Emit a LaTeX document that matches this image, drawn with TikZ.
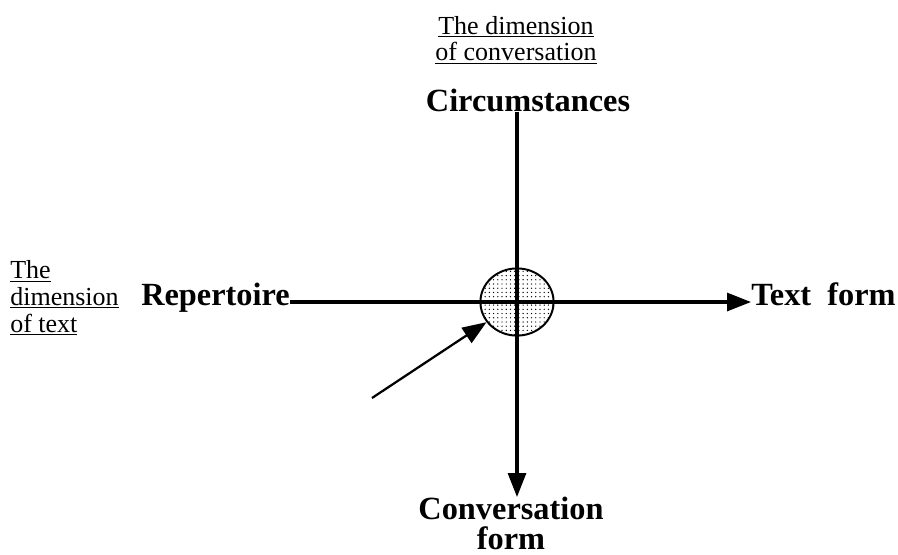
\documentclass[tikz,border=0pt]{standalone}
\usepackage{fontspec}
\setmainfont{Liberation Serif}
\usetikzlibrary{arrows.meta,patterns,shapes.geometric}

\begin{document}
\begin{tikzpicture}[
    x=0.025cm, y=-0.025cm,
    pole/.style={font=\fontsize{23}{21}\selectfont\bfseries, inner sep=0pt, align=center},
    note/.style={font=\fontsize{18.5}{19}\selectfont, inner sep=0pt},
    hubshape/.style={draw, ellipse, line width=1.4pt, minimum width=1.83cm, minimum height=1.68cm, pattern=dots},
    arrow/.style={-{Triangle[length=0.6cm, width=0.45cm]}, line width=2.2pt}
]
    \useasboundingbox (0,0) rectangle (898,554);

    % Dimension notes
    \node[note, align=center] (convdim) at (516,40) {\underline{The dimension}\\\underline{of conversation}};
    \node[note, align=left, anchor=west] (textdim) at (10,298) {\underline{The}\\\underline{dimension}\\\underline{of text}};

    % Poles
    \node[pole] (circ) at (528,100) {Circumstances};
    \node[pole, anchor=mid east] (rep) at (290,302) {Repertoire};
    \node[pole, anchor=mid west] (txt) at (751,302) {Text\hspace{0.5em}form};
    \node[pole, anchor=north] (conv) at (511,497) {Conversation\\form};

    % Centre
    \node[hubshape] (hub) at (517,302) {};
    \coordinate (tail) at (372,398);

    % Axes
    \draw[arrow] (rep.mid east) -- (txt.mid west);
    \draw[arrow] (hub |- circ.south) -- (hub |- conv.north);
    \draw[arrow, line width=1.6pt] (tail) -- (hub);
\end{tikzpicture}
\end{document}
